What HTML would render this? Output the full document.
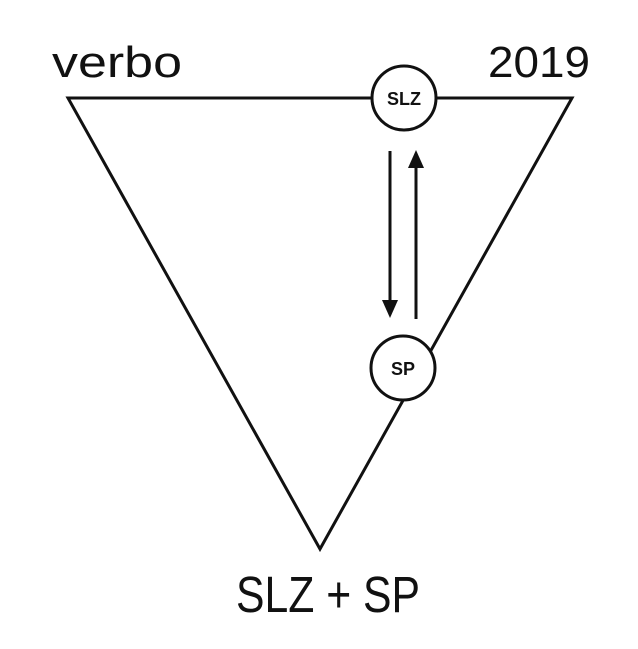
<!DOCTYPE html>
<html><head><meta charset="utf-8"><style>
html,body{margin:0;padding:0;background:#fff;}
svg{display:block;}
</style></head><body>
<svg width="638" height="649" viewBox="0 0 638 649" xmlns="http://www.w3.org/2000/svg">
<g fill="none" stroke="#111" stroke-width="3">
<polygon points="68,98 572,98 320,549" stroke-linejoin="miter"/>
</g>
<circle cx="404" cy="98" r="32" fill="#fff" stroke="#111" stroke-width="3"/>
<circle cx="403" cy="368" r="32" fill="#fff" stroke="#111" stroke-width="3"/>
<g stroke="#111" stroke-width="3">
<line x1="390" y1="151" x2="390" y2="300"/>
<line x1="416" y1="168" x2="416" y2="319"/>
</g>
<polygon points="382,300 398,300 390,318" fill="#111"/>
<polygon points="408,168 424,168 416,150" fill="#111"/>
<g font-family="Liberation Sans, sans-serif" fill="#111">
<text x="404" y="105" font-size="18" font-weight="bold" text-anchor="middle">SLZ</text>
<text x="403" y="375" font-size="18" font-weight="bold" text-anchor="middle">SP</text>
<text x="52" y="77" font-size="44" textLength="130" lengthAdjust="spacingAndGlyphs">verbo</text>
<text x="488" y="77" font-size="44" textLength="102" lengthAdjust="spacingAndGlyphs">2019</text>
<text x="236" y="612" font-size="51" textLength="184" lengthAdjust="spacingAndGlyphs">SLZ + SP</text>
</g>
</svg>
</body></html>
